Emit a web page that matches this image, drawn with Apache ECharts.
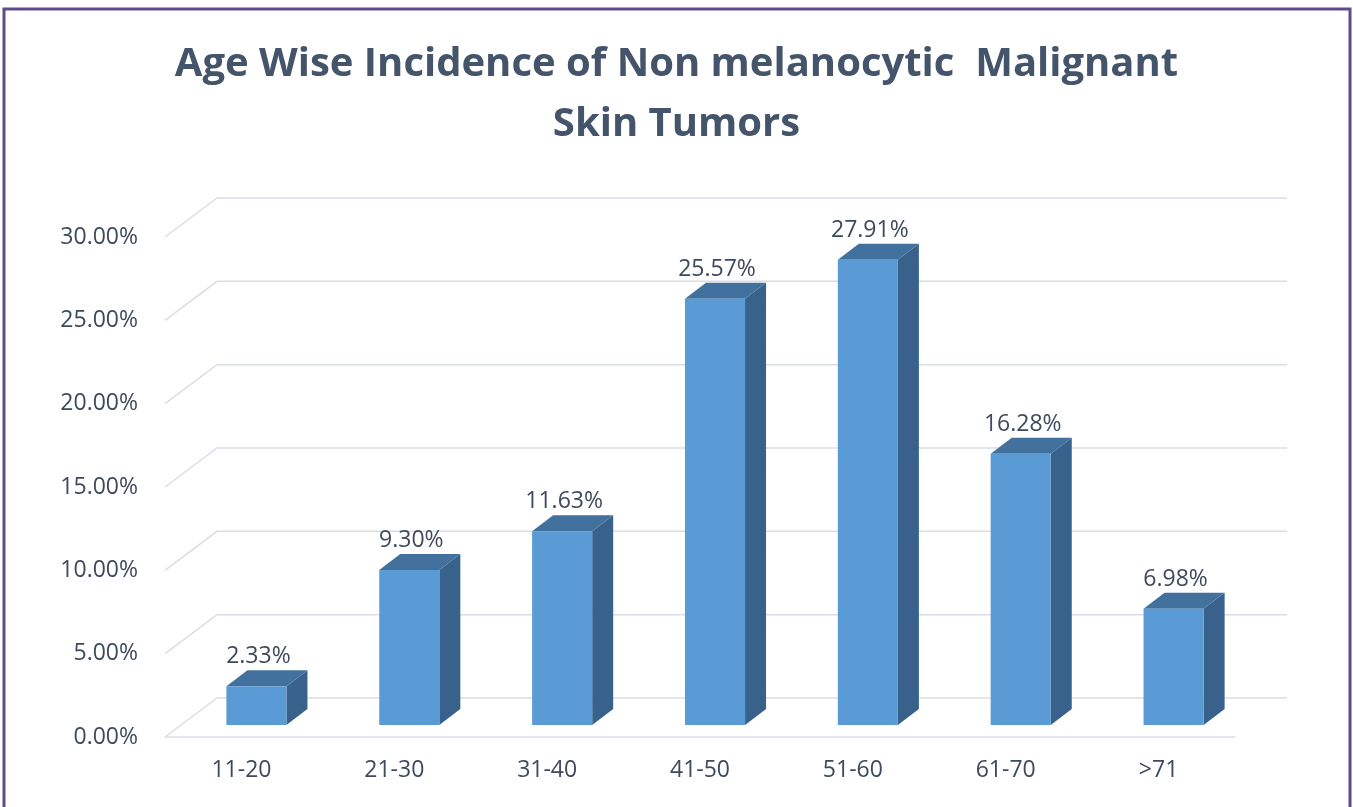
<!DOCTYPE html>
<html lang="en">
<head>
    <meta charset="UTF-8">
    <title>Age Wise Incidence</title>
    <script type="text/javascript" src="https://cdn.jsdelivr.net/npm/echarts@6/dist/echarts.min.js"></script>
    <style>
        html, body { margin: 0; padding: 0; background: #fff; }
    </style>
</head>
<body>
<div id="main" style="width: 1353px;height:807px;"></div>

<script>
    // 数据
    var categories = ['11-20', '21-30', '31-40', '41-50', '51-60', '61-70', '>71'];
    var percents = [2.33, 9.30, 11.63, 25.57, 27.91, 16.28, 6.98];
    var yTicks = [0, 5, 10, 15, 20, 25, 30];

    var textColor = '#3e4a5c';
    var gridColor = '#d9dde5';
    // 透视偏移
    var wallDx = 52, wallDy = -39;
    var barDx = 15, barDy = -12;
    var sideDx = 21, sideDy = -16;

    var myChart = echarts.init(document.getElementById('main'));

    myChart.setOption({
        animation: false,
        title: {
            text: 'Age Wise Incidence of Non melanocytic  Malignant\nSkin Tumors',
            left: 'center',
            top: 30,
            textStyle: {
                fontFamily: 'Open Sans',
                fontWeight: 'bold',
                fontSize: 40,
                lineHeight: 60,
                color: '#44546a'
            }
        },
        graphic: [{
            type: 'rect',
            shape: { x: 4, y: 9, width: 1346, height: 830 },
            style: { fill: 'none', stroke: '#5f4b8b', lineWidth: 3 },
            silent: true
        }],
        grid: { left: 165, right: 118, top: 237, bottom: 70 },
        xAxis: {
            type: 'category',
            data: categories,
            axisTick: { show: false },
            axisLine: { lineStyle: { color: gridColor, width: 1.5 } },
            axisLabel: {
                color: textColor,
                fontFamily: 'Open Sans',
                fontSize: 23,
                margin: 22
            }
        },
        yAxis: {
            type: 'value',
            min: 0,
            max: 30,
            interval: 5,
            axisLine: { show: false },
            axisTick: { show: false },
            splitLine: { show: false },
            axisLabel: {
                color: textColor,
                fontFamily: 'Open Sans',
                fontSize: 23,
                margin: 27,
                formatter: function (v) { return v.toFixed(2) + '%'; }
            }
        },
        series: [{
            // 背景墙网格线
            type: 'custom',
            silent: true,
            z: 1,
            data: yTicks.map(function (v) { return [0, v]; }),
            renderItem: function (params, api) {
                var cs = params.coordSys;
                var y = api.coord([0, api.value(1)])[1];
                var x0 = cs.x;
                return {
                    type: 'polyline',
                    shape: {
                        points: [[x0, y], [x0 + wallDx, y + wallDy], [x0 + cs.width + wallDx, y + wallDy]]
                    },
                    style: { fill: 'none', stroke: gridColor, lineWidth: 1.5 }
                };
            }
        }, {
            // 三维柱子
            type: 'custom',
            z: 3,
            data: percents.map(function (v, i) { return [i, v]; }),
            renderItem: function (params, api) {
                var base = api.coord([api.value(0), 0]);
                var top = api.coord([api.value(0), api.value(1)]);
                var w = api.size([1, 0])[0] * 0.393;
                var cx = base[0] + barDx;
                var x1 = cx - w / 2, x2 = cx + w / 2;
                var yb = base[1] + barDy, yt = top[1] + barDy;
                return {
                    type: 'group',
                    children: [{
                        type: 'polygon',
                        shape: { points: [[x2, yb], [x2 + sideDx, yb + sideDy], [x2 + sideDx, yt + sideDy], [x2, yt]] },
                        style: { fill: '#38628c' }
                    }, {
                        type: 'polygon',
                        shape: { points: [[x1, yt], [x2, yt], [x2 + sideDx, yt + sideDy], [x1 + sideDx, yt + sideDy]] },
                        style: { fill: '#41719c' }
                    }, {
                        type: 'rect',
                        shape: { x: x1, y: yt, width: w, height: yb - yt },
                        style: { fill: '#5b9bd5' }
                    }, {
                        type: 'text',
                        style: {
                            text: api.value(1).toFixed(2) + '%',
                            x: cx + 2,
                            y: yt + sideDy - 2,
                            align: 'center',
                            verticalAlign: 'bottom',
                            fill: textColor,
                            font: '23px "Open Sans"'
                        }
                    }]
                };
            }
        }]
    });
</script>

</body>
</html>
